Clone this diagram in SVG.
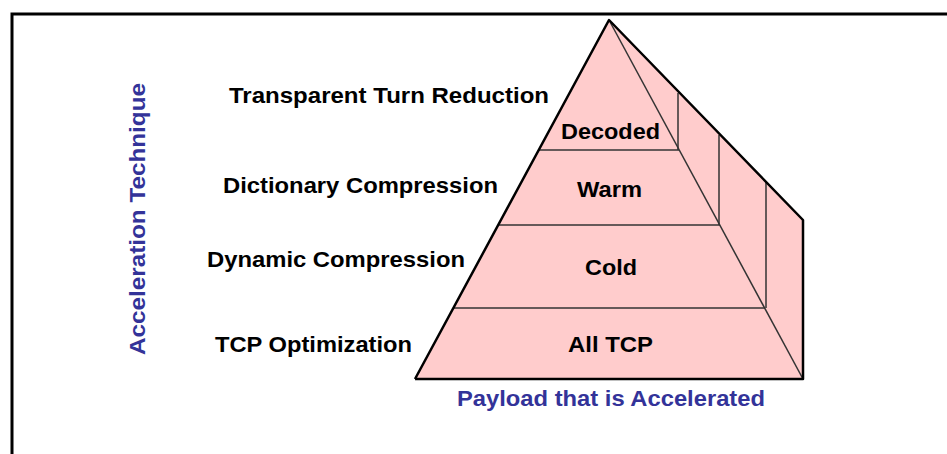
<svg xmlns="http://www.w3.org/2000/svg" width="947" height="454" viewBox="0 0 947 454">
<style>
.lbl{font-family:"Liberation Sans",Arial,sans-serif;font-weight:bold;font-size:21.5px;fill:#000}
.ax{font-family:"Liberation Sans",Arial,sans-serif;font-weight:bold;font-size:21.5px;fill:#333399}
.edge{fill:none;stroke:#000;stroke-width:2.5;stroke-linejoin:round}
.inner{fill:none;stroke:#333;stroke-width:1.5}
</style>
<rect width="947" height="454" fill="#fff"/>
<path d="M12,454 V14 H947" fill="none" stroke="#000" stroke-width="3"/>
<g id="pyramid">
<polygon points="609,20 803,220 803,379 415,379" fill="#FFCCCC" stroke="none"/>
<g id="connectors">
<line class="inner" x1="609" y1="20" x2="803" y2="379"/>
<line class="inner" x1="539" y1="150" x2="679" y2="150"/>
<line class="inner" x1="498" y1="225" x2="720" y2="225"/>
<line class="inner" x1="453" y1="308" x2="765" y2="308"/>
<line class="inner" x1="678" y1="93" x2="678" y2="150"/>
<line class="inner" x1="719" y1="135" x2="719" y2="225"/>
<line class="inner" x1="766" y1="182" x2="766" y2="308"/>
</g>
<polyline class="edge" points="415,379 609,20 803,220 803,379 415,379"/>
</g>
<g id="layer-decoded"><text class="lbl" x="561" y="139" textLength="99" lengthAdjust="spacingAndGlyphs">Decoded</text></g>
<g id="layer-warm"><text class="lbl" x="577" y="197" textLength="65" lengthAdjust="spacingAndGlyphs">Warm</text></g>
<g id="layer-cold"><text class="lbl" x="585" y="275" textLength="52" lengthAdjust="spacingAndGlyphs">Cold</text></g>
<g id="layer-alltcp"><text class="lbl" x="568" y="352" textLength="85" lengthAdjust="spacingAndGlyphs">All TCP</text></g>
<g id="tech-ttr"><text class="lbl" x="229" y="103" textLength="320" lengthAdjust="spacingAndGlyphs">Transparent Turn Reduction</text></g>
<g id="tech-dict"><text class="lbl" x="223" y="193" textLength="275" lengthAdjust="spacingAndGlyphs">Dictionary Compression</text></g>
<g id="tech-dyn"><text class="lbl" x="207" y="267" textLength="258" lengthAdjust="spacingAndGlyphs">Dynamic Compression</text></g>
<g id="tech-tcp"><text class="lbl" x="215" y="352" textLength="197" lengthAdjust="spacingAndGlyphs">TCP Optimization</text></g>
<g id="axis-x"><text class="ax" x="457" y="406" textLength="308" lengthAdjust="spacingAndGlyphs">Payload that is Accelerated</text></g>
<g id="axis-y"><text class="ax" transform="translate(145,355) rotate(-90)" textLength="272" lengthAdjust="spacingAndGlyphs">Acceleration Technique</text></g>
</svg>
